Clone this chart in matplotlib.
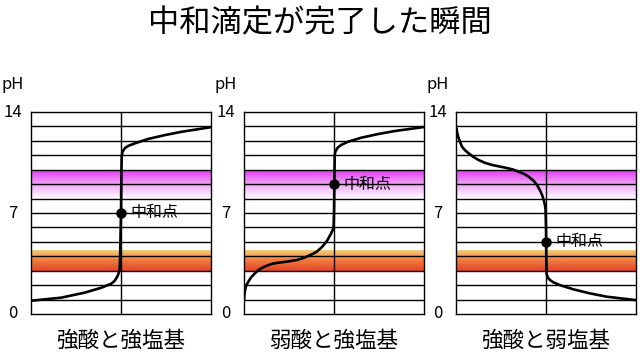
import numpy as np
import matplotlib
matplotlib.use("Agg")
import matplotlib.pyplot as plt
from matplotlib.colors import LinearSegmentedColormap
from matplotlib.transforms import blended_transform_factory

plt.rcParams["font.family"] = ["Noto Sans CJK JP", "DejaVu Sans"]

title = "中和滴定が完了した瞬間"
panel_names = ["強酸と強塩基", "弱酸と強塩基", "強酸と弱塩基"]
point_label = "中和点"
ph_ticks = [0, 7, 14]

# indicator ranges (pH)
phenol_range = [8.0, 10.0]
methyl_range = [3.0, 4.4]

# titration curves: added base (x, equivalence at 1) vs pH
strong_strong_x = [0, 0.334, 0.597, 0.781, 0.892, 0.93, 0.959, 0.975, 0.985, 0.99,
                   1.0, 1.005, 1.008, 1.015, 1.03, 1.044, 1.08, 1.156, 1.3, 1.488, 1.674, 2.0]
strong_strong_ph = [0.92, 1.13, 1.48, 1.82, 2.1, 2.3, 2.6, 2.85, 3.05, 4.0,
                    7.0, 10.0, 10.9, 11.2, 11.38, 11.5, 11.65, 11.83, 12.13, 12.4, 12.63, 12.95]

weak_strong_x = [0, 0.004, 0.012, 0.025, 0.048, 0.08, 0.122, 0.16, 0.214, 0.27, 0.326, 0.4,
                 0.474, 0.586, 0.64, 0.696, 0.75, 0.808, 0.86, 0.9, 0.93, 0.948, 0.965,
                 0.978, 0.988, 0.995, 1.0, 1.004, 1.008, 1.015, 1.03,
                 1.044, 1.08, 1.156, 1.304, 1.488, 1.674, 2.0]
weak_strong_ph = [0.97, 1.3, 1.66, 1.98, 2.24, 2.55, 2.82, 3.05, 3.24, 3.39, 3.5, 3.57,
                  3.63, 3.74, 3.84, 3.97, 4.12, 4.32, 4.6, 4.9, 5.15, 5.36, 5.55,
                  5.72, 5.85, 6.0, 7.0, 9.0, 11.0, 11.25, 11.42,
                  11.55, 11.72, 11.94, 12.22, 12.47, 12.68, 12.96]

strong_weak_x = [0.005, 0.015, 0.03, 0.066, 0.1, 0.14, 0.19, 0.252, 0.32, 0.4, 0.548, 0.63,
                 0.696, 0.76, 0.808, 0.86, 0.9, 0.935, 0.956, 0.975, 0.988, 0.995,
                 1.0, 1.003, 1.006, 1.015, 1.03, 1.044, 1.08, 1.156,
                 1.304, 1.488, 1.674, 2.0]
strong_weak_ph = [12.9, 12.5, 12.17, 11.6, 11.35, 11.14, 10.9, 10.67, 10.48, 10.33, 10.14, 10.02,
                  9.86, 9.7, 9.51, 9.25, 8.94, 8.55, 8.25, 7.9, 7.55, 7.2,
                  6.0, 4.0, 2.82, 2.6, 2.45, 2.36, 2.2, 2.0,
                  1.71, 1.43, 1.2, 0.96]

equiv_ph = [7, 9, 5]

curves = [(strong_strong_x, strong_strong_ph),
          (weak_strong_x, weak_strong_ph),
          (strong_weak_x, strong_weak_ph)]

magenta_cmap = LinearSegmentedColormap.from_list("mag", ["#ffffff", "#f1a8f7", "#e03cf1"])
orange_cmap = LinearSegmentedColormap.from_list("org", ["#e8412a", "#ef7a3e", "#f7cc7e"])
grad = np.linspace(0, 1, 256).reshape(-1, 1)

fig = plt.figure(figsize=(6.4, 3.6), dpi=100)
W, H = 640, 360
box_left = [31, 244, 456]
box_top, box_bottom, box_w = 112, 314, 180

fig.text(0.5, 1 - 23 / H, title, ha="center", va="center", fontsize=22.5)

for i, (xs, ys) in enumerate(curves):
    ax = fig.add_axes([box_left[i] / W, 1 - box_bottom / H, box_w / W, (box_bottom - box_top) / H])
    ax.set_xlim(0, 2)
    ax.set_ylim(0, 14)
    ax.set_xticks([])
    ax.set_yticks([])
    for s in ax.spines.values():
        s.set_linewidth(1.0)

    ax.imshow(grad, extent=[0, 2, phenol_range[0], phenol_range[1]], origin="lower",
              aspect="auto", cmap=magenta_cmap, zorder=0)
    ax.imshow(grad, extent=[0, 2, methyl_range[0], methyl_range[1]], origin="lower",
              aspect="auto", cmap=orange_cmap, zorder=0)

    for p in range(1, 14):
        ax.axhline(p, color="black", lw=1.0, zorder=1)
    ax.axvline(1, color="black", lw=1.0, zorder=1)

    ax.plot(xs, ys, color="black", lw=1.9, zorder=3, solid_capstyle="butt", solid_joinstyle="round")
    ax.plot([1], [equiv_ph[i]], "o", color="black", ms=6.5, zorder=4)
    ax.annotate(point_label, (1, equiv_ph[i]), xytext=(7, 0), textcoords="offset points",
                ha="left", va="center", fontsize=11.5, zorder=5)

    trans = blended_transform_factory(ax.transAxes, ax.transData)
    for t in ph_ticks:
        ax.text(-0.1, t, str(t), transform=trans, ha="center", va="center", fontsize=12)
    ax.text(-0.1, 1.135, "pH", transform=ax.transAxes, ha="center", va="center", fontsize=12)

    fig.text((box_left[i] + box_w / 2) / W, 1 - 341 / H, panel_names[i],
             ha="center", va="center", fontsize=15.5)

fig.savefig("out.png", dpi=100)
